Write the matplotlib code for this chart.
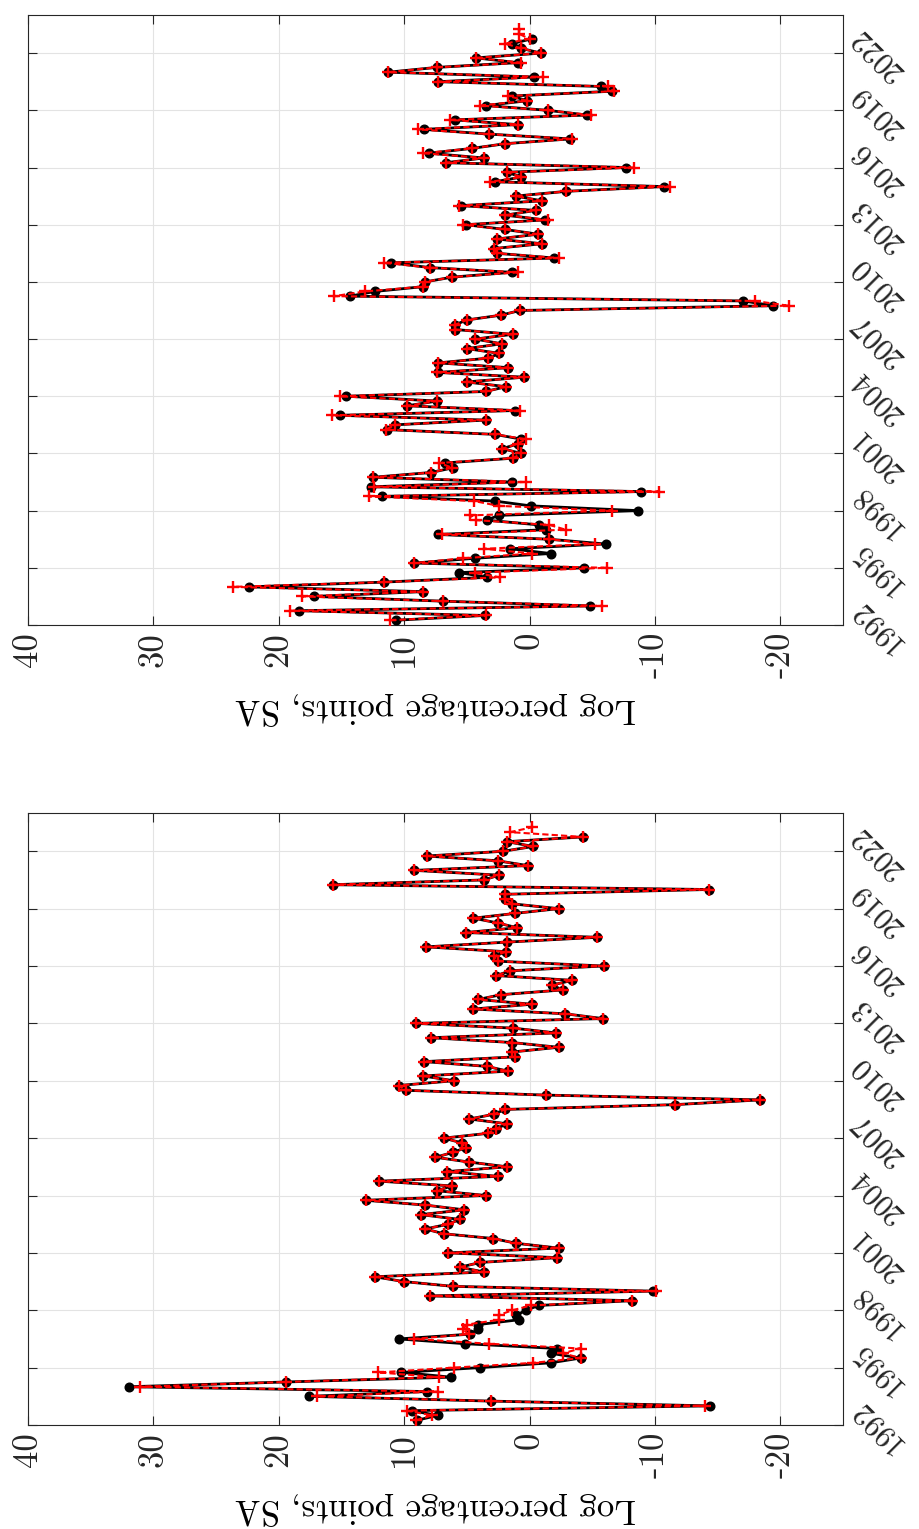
import numpy as np
import pandas as pd
import matplotlib
matplotlib.use("Agg")
import matplotlib.pyplot as plt
from matplotlib.transforms import ScaledTranslation, blended_transform_factory

# Quarterly sample, 1992Q2 onwards (the dashed series runs two quarters longer)
quarters = pd.period_range("1992Q2", "2023Q2", freq="Q")
t = np.asarray(quarters.year + (quarters.quarter - 1) / 4.0, dtype=float)

# Upper panel
upper_black = [
    10.66, 3.57, 18.38, -4.83, 6.91, 17.18, 8.53, 22.37, 11.59, 3.36,
    5.59, -4.38, 9.19, 4.38, -1.68, 1.53, -6.07, -1.53, 7.33, -1.32,
    -0.78, 3.42, 2.46, -8.65, -0.09, 2.76, 11.77, -8.89, 12.67, 1.38,
    12.49, 7.87, 6.07, 6.73, 1.32, 0.66, 2.16, 0.96, 0.66, 2.76,
    11.38, 10.72, 3.51, 15.14, 1.17, 9.76, 7.36, 14.62, 3.51, 1.86,
    5.02, 0.42, 7.27, 1.68, 7.27, 3.30, 2.40, 5.02, 2.22, 4.32,
    1.35, 5.92, 5.92, 5.02, 2.31, 0.75, -19.40, -17.06, 14.32, 12.31,
    8.47, 8.32, 6.16, 1.41, 7.96, 11.08, -1.98, 2.61, 2.82, -0.99,
    2.61, -0.69, 1.95, 5.08, -1.20, 1.92, -0.48, 5.47, -0.99, 1.11,
    -2.94, -10.69, 2.76, 0.66, 1.80, -7.69, 6.67, 3.66, 8.02, 4.62,
    1.92, -3.24, 3.21, 8.41, 0.96, 5.98, -4.59, -1.44, 3.51, 0.21,
    1.41, -6.55, -5.71, 7.27, -0.39, 11.26, 7.42, 0.96, 4.26, -0.90,
    0.66, 1.38, -0.18,
]
upper_red = [
    11.11, 3.51, 19.13, -5.80, 6.91, 18.14, 8.53, 23.69, 11.59, 2.37,
    4.38, -6.16, 9.19, 5.32, -0.21, 3.66, -5.26, -1.53, 6.97, -2.88,
    -1.59, 4.26, 4.71, -6.55, 2.46, 4.41, 12.82, -10.30, 12.43, 0.30,
    12.49, 7.87, 6.16, 7.21, 1.32, 0.66, 2.16, 0.96, 0.30, 2.76,
    11.47, 10.72, 3.51, 15.77, 0.75, 9.76, 7.36, 15.14, 3.51, 1.86,
    5.02, 0.42, 7.42, 1.68, 7.27, 3.30, 2.40, 5.02, 2.22, 4.32,
    1.35, 5.92, 5.92, 5.02, 2.31, 0.75, -20.66, -17.96, 15.59, 13.12,
    8.47, 8.32, 6.16, 0.96, 7.96, 11.62, -2.34, 2.61, 2.82, -0.99,
    2.61, -0.69, 1.95, 5.32, -1.44, 1.92, -0.48, 5.62, -0.99, 1.11,
    -2.94, -11.20, 3.12, 0.66, 1.80, -8.35, 6.67, 3.66, 8.47, 4.62,
    1.92, -3.39, 3.21, 8.92, 0.96, 6.37, -4.89, -1.44, 3.96, 0.21,
    1.71, -6.70, -6.25, 7.27, -1.08, 11.26, 7.42, 0.66, 4.26, -0.90,
    0.66, 1.95, 0.00, 0.81, 0.81,
]

# Lower panel
lower_black = [
    8.97, 7.33, 9.41, -14.40, 3.11, 17.58, 8.21, 31.94, 19.41, 6.23,
    10.22, 3.99, -1.68, -4.07, -1.68, -2.23, 5.13, 10.44, 4.73, 4.10,
    4.10, 0.88, 1.06, 0.26, -0.73, -8.17, 7.95, -9.82, 6.12, 10.04,
    12.34, 3.63, 5.57, 3.92, -2.23, 6.48, -2.31, 1.06, 2.89, 6.85,
    8.32, 6.48, 5.57, 8.68, 5.20, 8.32, 13.08, 3.48, 7.40, 6.19,
    11.98, 2.53, 6.56, 1.79, 4.84, 7.51, 6.12, 5.09, 5.38, 6.85,
    3.33, 2.64, 1.79, 4.80, 2.82, 1.98, -11.58, -18.42, -1.28, 9.85,
    10.44, 6.04, 8.50, 1.72, 3.37, 8.39, 1.14, 1.43, -2.31, 1.43,
    7.88, -2.12, 1.28, 9.05, -5.86, -2.86, 4.47, -0.18, 4.10, 2.27,
    -2.67, -1.76, -3.41, 2.64, 1.54, -5.90, 2.53, 2.82, 1.90, 8.24,
    1.79, -5.42, 5.09, 0.99, 2.53, 4.47, 1.17, -2.31, 1.36, 1.98,
    1.98, -14.29, 15.71, 3.63, 2.45, 9.19, 0.15, 2.53, 8.21, 2.09,
    -0.29, 1.79, -4.25,
]
lower_red = [
    9.05, 7.77, 9.78, -14.03, 3.11, 16.92, 7.33, 31.10, 19.41, 7.22,
    12.05, 6.04, -0.29, -4.07, -2.67, -4.07, 3.26, 9.23, 4.84, 5.31,
    5.00, 2.45, 2.45, 1.36, -0.11, -8.17, 7.95, -10.11, 6.12, 10.04,
    12.34, 3.63, 5.57, 3.92, -2.23, 6.48, -2.31, 1.06, 2.89, 6.85,
    8.32, 6.48, 5.57, 8.68, 5.20, 8.32, 13.08, 3.48, 7.40, 6.19,
    11.98, 2.53, 6.56, 1.79, 4.84, 7.51, 6.12, 5.09, 5.38, 6.85,
    3.33, 2.64, 1.79, 4.80, 2.82, 1.98, -11.58, -18.42, -1.28, 9.85,
    10.44, 6.04, 8.50, 1.72, 3.37, 8.39, 1.14, 1.43, -2.31, 1.43,
    7.88, -2.12, 1.28, 9.05, -5.86, -2.86, 4.47, -0.18, 4.10, 2.27,
    -2.67, -1.76, -3.41, 2.64, 1.54, -5.90, 2.53, 2.82, 1.90, 8.24,
    1.79, -5.42, 5.09, 0.99, 2.53, 4.47, 1.17, -2.31, 1.36, 1.98,
    1.98, -14.29, 15.71, 3.63, 2.45, 9.19, 0.15, 2.53, 8.21, 2.09,
    -0.29, 1.79, -4.25, 1.54, -0.18,
]

value_ticks = [40, 30, 20, 10, 0, -10, -20]
value_labels = ["40", "30", "20", "10", "0", "-10", "-20"]
year_ticks = list(range(1992, 2023, 3))
year_labels = [str(y) for y in year_ticks]
axis_label = "Log percentage points, SA"

plt.rcParams.update({
    "font.family": ["cmr10", "DejaVu Serif"],
    "axes.unicode_minus": False,
    "mathtext.fontset": "cm",
    "axes.formatter.use_mathtext": True,
})

FS = 25
FS_YEAR = 22
AX_COLOR = "#262626"

fig = plt.figure(figsize=(9.19, 15.29), dpi=100)
W, H = 919.0, 1529.0
ax_top = fig.add_axes([28 / W, 1 - 625 / H, 815 / W, 610 / H])
ax_bot = fig.add_axes([28 / W, 1 - 1425 / H, 815 / W, 612 / H])


def draw_panel(ax, black, red):
    ax.plot(black, t[:len(black)], color="black", lw=2.0, marker="o",
            ms=6.2, mfc="black", mec="black", zorder=3)
    ax.plot(red, t[:len(red)], color="red", lw=1.5, ls=(0, (3.0, 1.5)),
            marker="+", ms=8.5, mew=1.7, zorder=4)
    ax.set_xlim(40, -25)
    ax.set_ylim(1992, 2024)
    ax.set_xticks(value_ticks)
    ax.set_xticklabels(value_labels, rotation=90, fontsize=FS, color=AX_COLOR)
    ax.set_yticks(year_ticks)
    ax.tick_params(axis="y", left=True, right=True, labelleft=False,
                   labelright=False, direction="in", length=6.5, width=0.8,
                   color=AX_COLOR)
    ax.tick_params(axis="x", top=True, bottom=True, direction="in",
                   length=6.5, width=0.8, color=AX_COLOR, pad=5)

    # slanted year labels beside the right-hand tick marks
    year_trans = (blended_transform_factory(ax.transAxes, ax.transData)
                  + ScaledTranslation(0.03, 0.11, fig.dpi_scale_trans))
    for yr, txt in zip(year_ticks, year_labels):
        ax.text(1.0, yr, txt, transform=year_trans, rotation=135,
                rotation_mode="anchor", ha="right", va="top",
                fontsize=FS_YEAR, color=AX_COLOR, clip_on=False)

    ax.grid(True, color="#e3e3e3", lw=0.8)
    ax.set_axisbelow(True)
    for sp in ax.spines.values():
        sp.set_color(AX_COLOR)
        sp.set_linewidth(0.8)
    ax.set_xlabel(axis_label, rotation=180, fontsize=FS, color="black",
                  labelpad=10)


draw_panel(ax_top, upper_black, upper_red)
draw_panel(ax_bot, lower_black, lower_red)

fig.savefig("out.png", dpi=100, facecolor="white")
